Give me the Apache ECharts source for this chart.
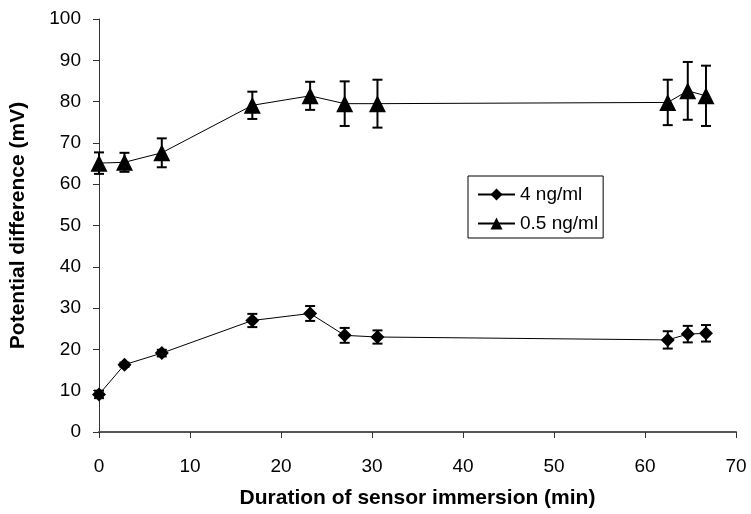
<!DOCTYPE html>
<html>
<head>
<meta charset="utf-8">
<script src="https://cdn.jsdelivr.net/npm/echarts@6/dist/echarts.min.js"></script>
<style>
  html, body { margin: 0; padding: 0; background: #fff; }
  #chart { width: 751px; height: 514px; }
</style>
</head>
<body>
<div id="chart"></div>
<script>
// immersion time (min)
var times = [0, 2.8, 6.9, 16.85, 23.2, 27.0, 30.6, 62.5, 64.7, 66.7];

// 4 ng/ml
var mean4 = [9.1, 16.3, 19.1, 27.0, 28.7, 23.4, 23.0, 22.3, 23.7, 23.9];
var err4 = [0.9, 0.5, 0.8, 1.6, 1.8, 1.8, 1.6, 2.1, 2.0, 2.0];

// 0.5 ng/ml
var mean05 = [65.1, 65.3, 67.6, 79.1, 81.4, 79.5, 79.5, 79.8, 82.6, 81.4];
var err05 = [2.6, 2.3, 3.5, 3.3, 3.4, 5.4, 5.8, 5.5, 7.0, 7.3];

function toPoints(xs, ys) {
  return xs.map(function (x, i) { return [x, ys[i]]; });
}
function toBars(xs, ys, es) {
  return xs.map(function (x, i) { return [x, ys[i] - es[i], ys[i] + es[i]]; });
}

function renderErr(params, api) {
  var lo = api.coord([api.value(0), api.value(1)]);
  var hi = api.coord([api.value(0), api.value(2)]);
  var w = 5;
  var style = { stroke: '#000', lineWidth: 2 };
  return {
    type: 'group',
    children: [
      { type: 'line', shape: { x1: lo[0], y1: lo[1], x2: hi[0], y2: hi[1] }, style: style },
      { type: 'line', shape: { x1: lo[0] - w, y1: lo[1], x2: lo[0] + w, y2: lo[1] }, style: style },
      { type: 'line', shape: { x1: hi[0] - w, y1: hi[1], x2: hi[0] + w, y2: hi[1] }, style: style }
    ]
  };
}

var font = '"Liberation Sans", Arial, sans-serif';
var chart = echarts.init(document.getElementById('chart'));
chart.setOption({
  animation: false,
  backgroundColor: '#fff',
  textStyle: { fontFamily: font },
  grid: { left: 97, right: 15, top: 19, bottom: 81 },
  legend: {
    orient: 'vertical',
    left: 468,
    top: 176,
    padding: [9, 5, 5, 9],
    itemGap: 10,
    itemWidth: 37,
    itemHeight: 15,
    borderColor: '#000',
    borderWidth: 1,
    textStyle: { fontFamily: font, fontSize: 19, color: '#000' },
    data: ['4 ng/ml', '0.5 ng/ml']
  },
  xAxis: {
    type: 'value',
    min: 0, max: 70, interval: 10,
    name: 'Duration of sensor immersion (min)',
    nameLocation: 'middle',
    nameGap: 56,
    nameTextStyle: { fontFamily: font, fontSize: 21, fontWeight: 'bold', color: '#000' },
    axisLine: { show: true, lineStyle: { color: '#555', width: 2 } },
    axisTick: { show: true, length: 6, lineStyle: { color: '#333' } },
    axisLabel: { fontFamily: font, fontSize: 19, color: '#000', margin: 25 },
    splitLine: { show: false }
  },
  yAxis: {
    type: 'value',
    min: 0, max: 100, interval: 10,
    name: 'Potential difference (mV)',
    nameLocation: 'middle',
    nameGap: 70,
    nameTextStyle: { fontFamily: font, fontSize: 21, fontWeight: 'bold', color: '#000' },
    axisLine: { show: true, lineStyle: { color: '#333', width: 1 } },
    axisTick: { show: true, length: 6, lineStyle: { color: '#333' } },
    axisLabel: { fontFamily: font, fontSize: 19, color: '#000', margin: 18 },
    splitLine: { show: false }
  },
  series: [
    {
      name: '4 ng/ml',
      type: 'line',
      data: toPoints(times, mean4),
      symbol: 'diamond',
      symbolSize: 14,
      itemStyle: { color: '#000' },
      lineStyle: { color: '#000', width: 1 },
      z: 3
    },
    {
      name: '0.5 ng/ml',
      type: 'line',
      data: toPoints(times, mean05),
      symbol: 'triangle',
      symbolSize: 17,
      itemStyle: { color: '#000' },
      lineStyle: { color: '#000', width: 1 },
      z: 3
    },
    {
      type: 'custom',
      renderItem: renderErr,
      data: toBars(times, mean4, err4),
      encode: { x: 0, y: [1, 2] },
      z: 4
    },
    {
      type: 'custom',
      renderItem: renderErr,
      data: toBars(times, mean05, err05),
      encode: { x: 0, y: [1, 2] },
      z: 4
    }
  ]
});
</script>
</body>
</html>
